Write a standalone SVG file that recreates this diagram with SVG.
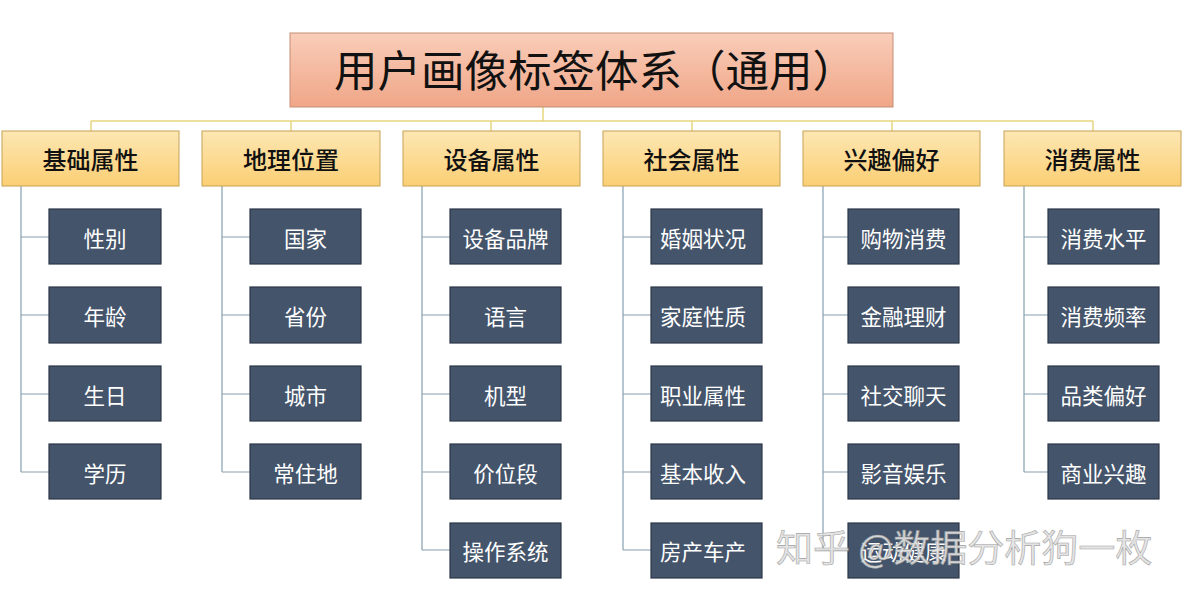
<svg xmlns="http://www.w3.org/2000/svg" width="1184" height="595" viewBox="0 0 1184 595">
<defs>
<linearGradient id="gTop" x1="0" y1="0" x2="0" y2="1"><stop offset="0" stop-color="#f9cdb9"/><stop offset="1" stop-color="#f0a687"/></linearGradient>
<linearGradient id="gCat" x1="0" y1="0" x2="0" y2="1"><stop offset="0" stop-color="#fde7b3"/><stop offset="1" stop-color="#fbcf74"/></linearGradient>
<style>
.top{fill:url(#gTop);stroke:#c48d74;stroke-width:1}
.cat{fill:url(#gCat);stroke:#c7a256;stroke-width:1}
.leaf{fill:#44546a;stroke:#2c3848;stroke-width:1.2}
.tt{font-family:"Noto Sans CJK SC","Noto Sans",sans-serif;font-size:43.5px;fill:#111}
.ct{font-family:"Noto Sans CJK SC",sans-serif;font-size:24px;font-weight:500;fill:#111;text-anchor:middle;dominant-baseline:central}
.lt{font-family:"Noto Sans CJK SC",sans-serif;font-size:21.5px;fill:#fff;text-anchor:middle;dominant-baseline:central}
.cy{fill:none;stroke:#e6d67c;stroke-width:1.5}
.cb{fill:none;stroke:#86a0b0;stroke-width:1.2}
.wm{font-family:"Noto Sans CJK SC",sans-serif;font-size:37px;fill:#e2e2e2;stroke:#9a9a9a;stroke-width:0.6;opacity:0.9}
</style>
</defs>
<g id="connectors">
<path class="cy" d="M543,107V121M91,121H1093M91,121V131M291,121V131M491,121V131M692,121V131M892,121V131M1093,121V131"/>
<path class="cb" d="M21,186V472M21,237H49M21,315H49M21,394H49M21,472H49"/>
<path class="cb" d="M222,186V472M222,237H250M222,315H250M222,394H250M222,472H250"/>
<path class="cb" d="M422,186V550M422,237H450M422,315H450M422,394H450M422,472H450M422,550H450"/>
<path class="cb" d="M623,186V550M623,237H651M623,315H651M623,394H651M623,472H651M623,550H651"/>
<path class="cb" d="M823,186V550M823,237H851M823,315H851M823,394H851M823,472H851M823,550H851"/>
<path class="cb" d="M1024,186V472M1024,237H1052M1024,315H1052M1024,394H1052M1024,472H1052"/>
</g>
<g id="root"><rect class="top" x="290" y="33" width="603" height="74"/><text class="tt" x="334" y="87">用户画像标签体系（通用）</text></g>
<g id="c1"><rect class="cat" x="2" y="131" width="177" height="55"/><text class="ct" x="90.5" y="158">基础属性</text></g>
<g id="c2"><rect class="cat" x="202" y="131" width="178" height="55"/><text class="ct" x="291" y="158">地理位置</text></g>
<g id="c3"><rect class="cat" x="403" y="131" width="177" height="55"/><text class="ct" x="491.5" y="158">设备属性</text></g>
<g id="c4"><rect class="cat" x="603" y="131" width="177" height="55"/><text class="ct" x="691.5" y="158">社会属性</text></g>
<g id="c5"><rect class="cat" x="803" y="131" width="177" height="55"/><text class="ct" x="891.5" y="158">兴趣偏好</text></g>
<g id="c6"><rect class="cat" x="1004" y="131" width="177" height="55"/><text class="ct" x="1092.5" y="158">消费属性</text></g>
<g id="l1a"><rect class="leaf" x="49" y="209" width="112" height="55"/><text class="lt" x="105" y="237">性别</text></g>
<g id="l1b"><rect class="leaf" x="49" y="287" width="112" height="56"/><text class="lt" x="105" y="315">年龄</text></g>
<g id="l1c"><rect class="leaf" x="49" y="366" width="112" height="55"/><text class="lt" x="105" y="394">生日</text></g>
<g id="l1d"><rect class="leaf" x="49" y="444" width="112" height="55"/><text class="lt" x="105" y="472">学历</text></g>
<g id="l2a"><rect class="leaf" x="250" y="209" width="111" height="55"/><text class="lt" x="305.5" y="237">国家</text></g>
<g id="l2b"><rect class="leaf" x="250" y="287" width="111" height="56"/><text class="lt" x="305.5" y="315">省份</text></g>
<g id="l2c"><rect class="leaf" x="250" y="366" width="111" height="55"/><text class="lt" x="305.5" y="394">城市</text></g>
<g id="l2d"><rect class="leaf" x="250" y="444" width="111" height="55"/><text class="lt" x="305.5" y="472">常住地</text></g>
<g id="l3a"><rect class="leaf" x="450" y="209" width="111" height="55"/><text class="lt" x="505.5" y="237">设备品牌</text></g>
<g id="l3b"><rect class="leaf" x="450" y="287" width="111" height="56"/><text class="lt" x="505.5" y="315">语言</text></g>
<g id="l3c"><rect class="leaf" x="450" y="366" width="111" height="55"/><text class="lt" x="505.5" y="394">机型</text></g>
<g id="l3d"><rect class="leaf" x="450" y="444" width="111" height="55"/><text class="lt" x="505.5" y="472">价位段</text></g>
<g id="l3e"><rect class="leaf" x="450" y="523" width="111" height="55"/><text class="lt" x="505.5" y="550">操作系统</text></g>
<g id="l4a"><rect class="leaf" x="651" y="209" width="111" height="55"/><text class="lt" x="703" y="237">婚姻状况</text></g>
<g id="l4b"><rect class="leaf" x="651" y="287" width="111" height="56"/><text class="lt" x="703" y="315">家庭性质</text></g>
<g id="l4c"><rect class="leaf" x="651" y="366" width="111" height="55"/><text class="lt" x="703" y="394">职业属性</text></g>
<g id="l4d"><rect class="leaf" x="651" y="444" width="111" height="55"/><text class="lt" x="703" y="472">基本收入</text></g>
<g id="l4e"><rect class="leaf" x="651" y="523" width="111" height="55"/><text class="lt" x="703" y="550">房产车产</text></g>
<g id="l5a"><rect class="leaf" x="848" y="209" width="111" height="55"/><text class="lt" x="903.5" y="237">购物消费</text></g>
<g id="l5b"><rect class="leaf" x="848" y="287" width="111" height="56"/><text class="lt" x="903.5" y="315">金融理财</text></g>
<g id="l5c"><rect class="leaf" x="848" y="366" width="111" height="55"/><text class="lt" x="903.5" y="394">社交聊天</text></g>
<g id="l5d"><rect class="leaf" x="848" y="444" width="111" height="55"/><text class="lt" x="903.5" y="472">影音娱乐</text></g>
<g id="l5e"><rect class="leaf" x="848" y="523" width="111" height="55"/><text class="lt" x="903.5" y="550">运动健康</text></g>
<g id="l6a"><rect class="leaf" x="1048" y="209" width="111" height="55"/><text class="lt" x="1103.5" y="237">消费水平</text></g>
<g id="l6b"><rect class="leaf" x="1048" y="287" width="111" height="56"/><text class="lt" x="1103.5" y="315">消费频率</text></g>
<g id="l6c"><rect class="leaf" x="1048" y="366" width="111" height="55"/><text class="lt" x="1103.5" y="394">品类偏好</text></g>
<g id="l6d"><rect class="leaf" x="1048" y="444" width="111" height="55"/><text class="lt" x="1103.5" y="472">商业兴趣</text></g>
<text class="wm" x="776" y="562">知乎 @数据分析狗一枚</text>
</svg>
